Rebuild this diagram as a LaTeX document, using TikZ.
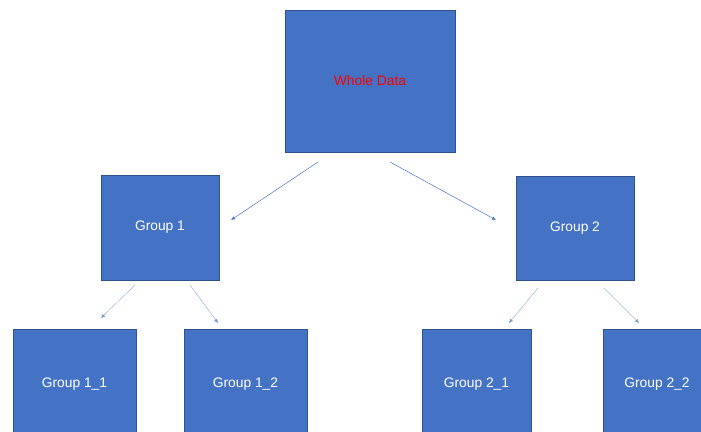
\documentclass[tikz,border=0pt]{standalone}
\usepackage{fontspec}
\setmainfont{Liberation Sans}
\usepackage{xcolor}
\usepackage{tikz}
\usetikzlibrary{arrows.meta}
\definecolor{grpBlue}{HTML}{4472C4}
\definecolor{grpEdge}{HTML}{2F528F}
\definecolor{grpRed}{HTML}{FF0000}

\begin{document}
\begin{tikzpicture}[
    x=1pt, y=-1pt,
    grpbox/.style={rectangle, draw=grpEdge, line width=0.8pt, fill=grpBlue, anchor=north west, inner sep=0pt, outer sep=0pt, text=white, font=\fontsize{13.8}{16}\selectfont},
    arrow/.style={-{Latex[length=4pt,width=3.5pt]}, line width=0.5pt, draw=grpBlue},
    thinarrow/.style={arrow, line width=0.3pt, draw=grpBlue!75}
]
\useasboundingbox (0,0) rectangle (701,431);
% top level
\node[grpbox, minimum width=170pt, minimum height=142pt, text=grpRed] (whole) at (285,10) {Whole Data};
% groups
\node[grpbox, minimum width=118pt, minimum height=105pt] (g1) at (101,175) {Group 1};
\node[grpbox, minimum width=118pt, minimum height=104pt] (g2) at (516,176) {Group 2};
% sub groups
\node[grpbox, minimum width=123pt, minimum height=110pt] (g11) at (13,329) {Group 1\_1};
\node[grpbox, minimum width=123pt, minimum height=110pt] (g12) at (184,329) {Group 1\_2};
\node[grpbox, minimum width=109pt, minimum height=110pt] (g21) at (422,329) {Group 2\_1};
\node[grpbox, minimum width=108pt, minimum height=110pt] (g22) at (603,329) {Group 2\_2};
\draw[arrow] ([xshift=33pt,yshift=-10pt]whole.south west) -- ([xshift=12pt,yshift=-45pt]g1.north east);
\draw[arrow] ([xshift=-65pt,yshift=-10pt]whole.south east) -- ([xshift=-20pt,yshift=-44pt]g2.north west);
\draw[thinarrow] ([xshift=34pt,yshift=-5pt]g1.south west) -- ([xshift=-35pt,yshift=11pt]g11.north east);
\draw[thinarrow] ([xshift=-29pt,yshift=-5pt]g1.south east) -- ([xshift=34pt,yshift=6pt]g12.north west);
\draw[thinarrow] ([xshift=22pt,yshift=-8pt]g2.south west) -- ([xshift=-22pt,yshift=6pt]g21.north east);
\draw[thinarrow] ([xshift=-30pt,yshift=-8pt]g2.south east) -- ([xshift=36pt,yshift=6pt]g22.north west);
\end{tikzpicture}
\end{document}
